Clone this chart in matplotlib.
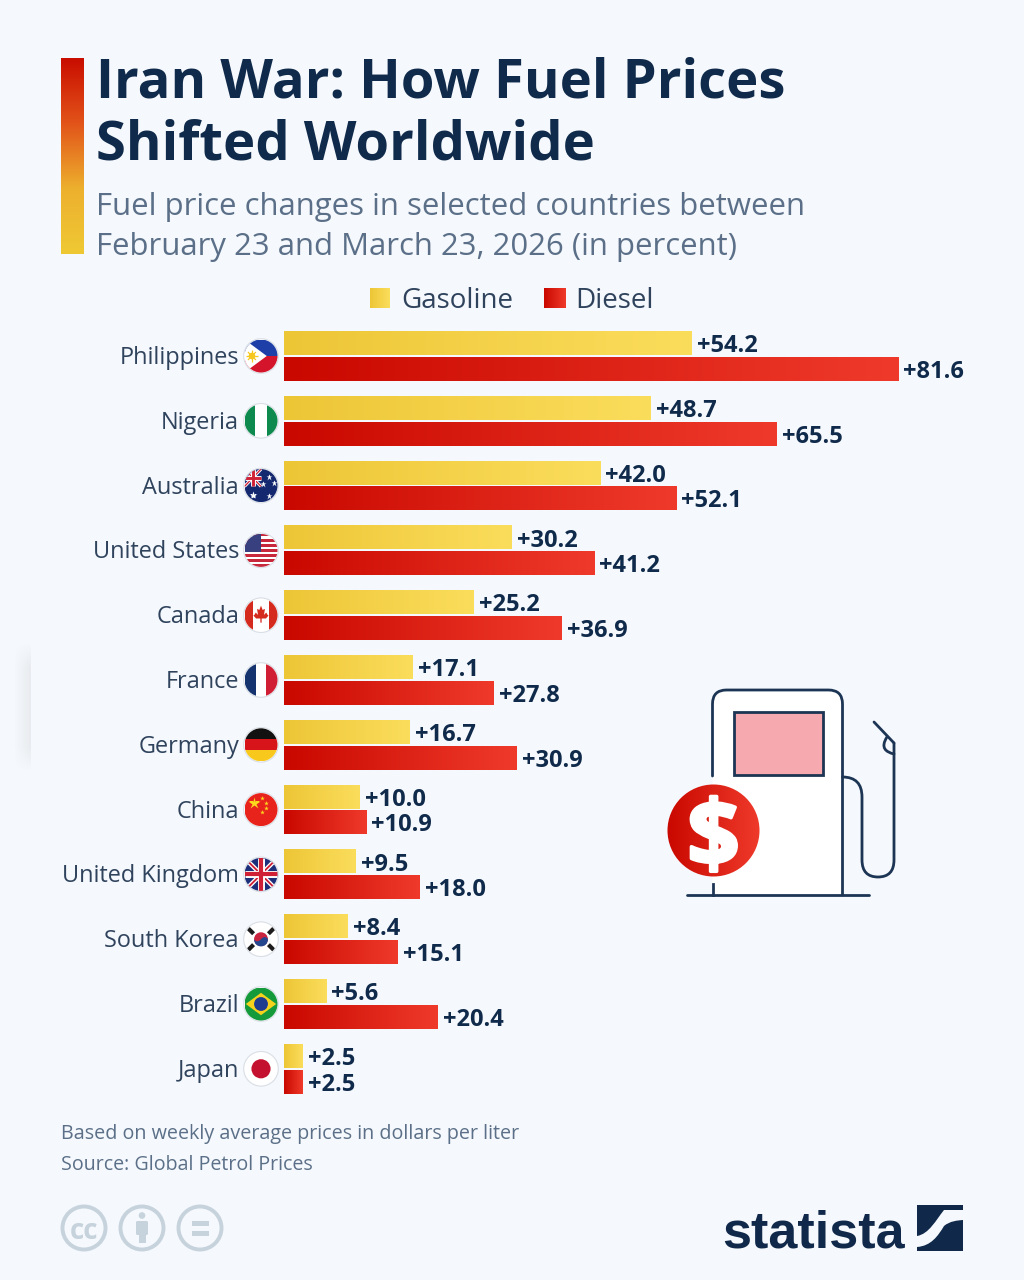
"""Iran war fuel price chart, statista style."""
import numpy as np
import matplotlib
matplotlib.use("Agg")
import matplotlib.pyplot as plt
import matplotlib.patheffects as pe
from matplotlib.colors import LinearSegmentedColormap
from matplotlib.patches import Circle, Rectangle, Polygon, PathPatch, FancyBboxPatch
from matplotlib.path import Path

countries = ["Philippines", "Nigeria", "Australia", "United States", "Canada", "France",
             "Germany", "China", "United Kingdom", "South Korea", "Brazil", "Japan"]
gasoline = [54.2, 48.7, 42.0, 30.2, 25.2, 17.1, 16.7, 10.0, 9.5, 8.4, 5.6, 2.5]
diesel = [81.6, 65.5, 52.1, 41.2, 36.9, 27.8, 30.9, 10.9, 18.0, 15.1, 20.4, 2.5]

BG = "#f5f8fc"
NAVY = "#0f2a4a"
LINE = "#1d3554"
SLATE = "#5b7088"
YEL = LinearSegmentedColormap.from_list("yel", ["#edc636", "#fbdd5c"])
RED = LinearSegmentedColormap.from_list("red", ["#c90800", "#ef3a2b"])
STRIP = LinearSegmentedColormap.from_list("strip", ["#c90d00", "#e2541a", "#edb02e", "#efc934"])
GRAD = np.linspace(0, 1, 256).reshape(1, -1)

plt.rcParams["font.family"] = ["Open Sans", "DejaVu Sans"]

fig = plt.figure(figsize=(10.24, 12.8), dpi=100, facecolor=BG)

# full-figure axes in pixel coordinates for everything around the chart
ov = fig.add_axes([0, 0, 1, 1], zorder=1)
ov.set_xlim(0, 1024)
ov.set_ylim(1280, 0)
ov.axis("off")

# chart axes: x=0 at px 283.5, 7.525 px per point; one row = 64.8 px
ax = fig.add_axes([283.5 / 1024, (1280 - 1100) / 1280, 740 / 1024, 780 / 1280], zorder=2)
ax.patch.set_alpha(0)
ax.set_xlim(0, 740 / 7.525)
ax.set_ylim((1100 - 356) / 64.8, (320 - 356) / 64.8)
ax.axis("off")


def gradient_bars(bars, cmap):
    for b in bars:
        x0, y0, w, h = b.get_x(), b.get_y(), b.get_width(), b.get_height()
        ax.imshow(GRAD, extent=(x0, x0 + w, y0 + h, y0), cmap=cmap, aspect="auto", zorder=3)
    ax.set_xlim(0, 740 / 7.525)
    ax.set_ylim((1100 - 356) / 64.8, (320 - 356) / 64.8)


rows = np.arange(len(countries))
bars_g = ax.barh(rows - 0.197, gasoline, height=0.365, color="#f4d145")
bars_d = ax.barh(rows + 0.197, diesel, height=0.37, color="#dc2015")
gradient_bars(bars_g, YEL)
gradient_bars(bars_d, RED)
for bars, vals in ((bars_g, gasoline), (bars_d, diesel)):
    for b, v in zip(bars, vals):
        ax.annotate(f"+{v:.1f}", (v, b.get_y() + b.get_height() / 2), xytext=(4.2, 0),
                    textcoords="offset points", va="center_baseline", ha="left",
                    fontsize=17, fontweight="bold", color=NAVY, zorder=4)


# --- flags ---------------------------------------------------------------
def flag_tools(cy, cx=261, r=16.5):
    clip = Circle((cx, cy), r, transform=ov.transData)
    ov.add_patch(Circle((cx, cy), r + 0.8, fc="#ffffff", ec="#d9dfe6", lw=0.8, zorder=3))

    def pt(u, v):
        return (cx + u * r, cy + v * r)

    def rect(u0, v0, u1, v1, color):
        p = Rectangle(pt(u0, v0), (u1 - u0) * r, (v1 - v0) * r, fc=color, ec="none", zorder=4)
        ov.add_patch(p)
        p.set_clip_path(clip)

    def poly(pts, color, z=5):
        p = Polygon([pt(*q) for q in pts], closed=True, fc=color, ec="none", zorder=z)
        ov.add_patch(p)
        p.set_clip_path(clip)

    def disc(u, v, rad, color, z=6):
        p = Circle(pt(u, v), rad * r, fc=color, ec="none", zorder=z)
        ov.add_patch(p)
        p.set_clip_path(clip)

    def seg(u0, v0, u1, v1, color, lw):
        a, b = pt(u0, v0), pt(u1, v1)
        ln, = ov.plot([a[0], b[0]], [a[1], b[1]], color=color, lw=lw, zorder=5,
                      solid_capstyle="butt")
        ln.set_clip_path(clip)

    def star(u, v, size, color):
        x, y = pt(u, v)
        ln, = ov.plot([x], [y], marker="*", ms=size, mfc=color, mec="none", zorder=6)
        ln.set_clip_path(clip)

    return pt, rect, poly, disc, seg, star


def union_jack(seg, rect, u0, v0, u1, v1, scale):
    rect(u0, v0, u1, v1, "#1b2f7a")
    seg(u0, v0, u1, v1, "#ffffff", 3.2 * scale)
    seg(u0, v1, u1, v0, "#ffffff", 3.2 * scale)
    seg(u0, v0, u1, v1, "#cf2035", 1.3 * scale)
    seg(u0, v1, u1, v0, "#cf2035", 1.3 * scale)
    mu, mv = (u0 + u1) / 2, (v0 + v1) / 2
    seg(u0, mv, u1, mv, "#ffffff", 5 * scale)
    seg(mu, v0, mu, v1, "#ffffff", 5 * scale)
    seg(u0, mv, u1, mv, "#cf2035", 3 * scale)
    seg(mu, v0, mu, v1, "#cf2035", 3 * scale)


def draw_flag(name, cy):
    pt, rect, poly, disc, seg, star = flag_tools(cy)
    if name == "Philippines":
        rect(-1, -1, 1, 0, "#1f3fa8")
        rect(-1, 0, 1, 1, "#d4142a")
        poly([(-1.0, -1), (0.35, 0), (-1.0, 1)], "#ffffff")
        disc(-0.55, 0, 0.2, "#f6c81f")
        for a in np.arange(0, np.pi, np.pi / 4):
            dx, dy = 0.34 * np.cos(a), 0.34 * np.sin(a)
            seg(-0.55 - dx, -dy, -0.55 + dx, dy, "#f6c81f", 0.9)
    elif name == "Nigeria":
        rect(-1, -1, -0.36, 1, "#0f8a4e")
        rect(0.36, -1, 1, 1, "#0f8a4e")
    elif name == "Australia":
        rect(-1, -1, 1, 1, "#14286f")
        union_jack(seg, rect, -1, -1, 0, 0.05, 0.7)
        star(-0.48, 0.55, 6, "#ffffff")
        for u, v in ((0.5, -0.55), (0.15, -0.1), (0.8, -0.15), (0.5, 0.65)):
            star(u, v, 4.5, "#ffffff")
    elif name == "United States":
        for i in range(13):
            rect(-1, -1 + i * 2 / 13, 1, -1 + (i + 1) * 2 / 13,
                 "#c8283c" if i % 2 == 0 else "#ffffff")
        rect(-1, -1, 0, 0.08, "#39407f")
    elif name == "Canada":
        rect(-1, -1, -0.5, 1, "#d52b1e")
        rect(0.5, -1, 1, 1, "#d52b1e")
        # rough maple leaf
        poly([(0, -0.58), (0.1, -0.32), (0.24, -0.38), (0.18, -0.02), (0.32, -0.16), (0.4, -0.02),
              (0.46, 0.02), (0.3, 0.2), (0.04, 0.2), (0.04, 0.45), (-0.04, 0.45), (-0.04, 0.2),
              (-0.3, 0.2), (-0.46, 0.02), (-0.4, -0.02), (-0.32, -0.16), (-0.18, -0.02),
              (-0.24, -0.38), (-0.1, -0.32)], "#d52b1e")
    elif name == "France":
        rect(-1, -1, -0.33, 1, "#14336f")
        rect(0.33, -1, 1, 1, "#d01f35")
    elif name == "Germany":
        rect(-1, -1, 1, -0.33, "#111111")
        rect(-1, -0.33, 1, 0.33, "#d7141a")
        rect(-1, 0.33, 1, 1, "#f8c91c")
    elif name == "China":
        rect(-1, -1, 1, 1, "#e8231c")
        star(-0.45, -0.38, 9, "#fbd91c")
        for u, v in ((0.05, -0.72), (0.3, -0.42), (0.3, -0.08), (0.05, 0.15)):
            star(u, v, 3.5, "#fbd91c")
    elif name == "United Kingdom":
        union_jack(seg, rect, -1, -1, 1, 1, 1.0)
    elif name == "South Korea":
        disc(0, 0, 0.42, "#c9243f")
        half = Path([pt(-0.42, 0), pt(-0.3, 0.22), pt(-0.1, 0.12), pt(0, 0),
                     pt(0.1, -0.12), pt(0.3, -0.22), pt(0.42, 0),
                     pt(0.42, 0.58), pt(-0.42, 0.58), pt(-0.42, 0)],
                    [1, 4, 4, 4, 4, 4, 4, 4, 4, 4])
        p = PathPatch(half, fc="#23468f", ec="none", zorder=7)
        ov.add_patch(p)
        for u, v, a in ((-0.62, -0.5, 1), (0.62, -0.5, -1), (-0.62, 0.5, -1), (0.62, 0.5, 1)):
            seg(u - 0.17, v - a * 0.17, u + 0.17, v + a * 0.17, "#1c1c1c", 3.0)
    elif name == "Brazil":
        rect(-1, -1, 1, 1, "#159a3b")
        poly([(-0.92, 0), (0, -0.68), (0.92, 0), (0, 0.68)], "#f5d31c")
        disc(0, 0, 0.42, "#1e3d8f")
        seg(-0.4, -0.08, 0.4, 0.12, "#ffffff", 0.8)
    elif name == "Japan":
        disc(0, 0, 0.58, "#c3112f")


for i, name in enumerate(countries):
    cy = 1280 - ax.transData.transform((0, i))[1]
    draw_flag(name, cy)
    ov.text(239, cy - 1, name, ha="right", va="center_baseline", fontsize=16.9, color="#2f435d")

# --- header --------------------------------------------------------------
ov.imshow(GRAD.T, extent=(61, 84, 254, 58), cmap=STRIP, aspect="auto", zorder=2)
ov.text(96, 77, "Iran War: How Fuel Prices", fontsize=39.2, fontweight="bold", color=NAVY,
        va="center_baseline")
ov.text(96, 139, "Shifted Worldwide", fontsize=39.2, fontweight="bold", color=NAVY,
        va="center_baseline")
ov.text(96, 204, "Fuel price changes in selected countries between", fontsize=22.4, color=SLATE,
        va="center_baseline")
ov.text(96, 243, "February 23 and March 23, 2026 (in percent)", fontsize=22.4, color=SLATE,
        va="center_baseline")

# legend
ov.imshow(GRAD, extent=(370, 390, 308, 288), cmap=YEL, aspect="auto", zorder=2)
ov.imshow(GRAD, extent=(544, 566, 308, 288), cmap=RED, aspect="auto", zorder=2)
ov.text(401, 298, "Gasoline", fontsize=20, color="#2f435d", va="center_baseline")
ov.text(575, 298, "Diesel", fontsize=20, color="#2f435d", va="center_baseline")

# faint card shadow on the left edge
shadow = np.linspace(0, 0.1, 64).reshape(1, -1, 1) * np.ones((130, 64, 1))
fade = np.minimum(1, np.minimum(np.arange(130), np.arange(129, -1, -1)) / 25).reshape(-1, 1, 1)
rgba = np.concatenate([np.full((130, 64, 3), 0.45), shadow * fade], axis=2)
ov.imshow(rgba, extent=(14, 31, 772, 642), aspect="auto", zorder=1)

# --- fuel pump -----------------------------------------------------------
L, R, T, B = 712.5, 842.5, 690, 895
body = Path([(L, B), (L, T + 14), (L, T), (L + 14, T), (R - 14, T), (R, T), (R, T + 14), (R, B), (L, B)],
            [1, 2, 3, 3, 2, 3, 3, 2, 79])
ov.add_patch(PathPatch(body, fc="#ffffff", ec="none", zorder=3))
pump_kw = dict(fc="none", ec=LINE, lw=2.0, zorder=4, capstyle="round", joinstyle="round")
ov.add_patch(PathPatch(Path([(L, 776), (L, T + 14), (L, T), (L + 14, T), (R - 14, T), (R, T), (R, T + 14), (R, B)],
                            [1, 2, 3, 3, 2, 3, 3, 2]), **pump_kw))
ov.plot([L, L], [884, B], color=LINE, lw=2.0, zorder=4)
ov.plot([687, 869], [895, 895], color=LINE, lw=2.0, zorder=4, solid_capstyle="round")
ov.add_patch(Rectangle((733.5, 711.5), 89.5, 63, fc="#f6a9ae", ec=LINE, lw=2.0, zorder=4))
hose = Path([(R, 777), (862, 777), (862, 797), (862, 860), (862, 877), (878, 877), (894, 877), (894, 860), (894, 743)],
            [1, 3, 3, 2, 3, 3, 3, 3, 2])
ov.add_patch(PathPatch(hose, **pump_kw))
ov.plot([874, 894], [722, 743], color=LINE, lw=2.0, zorder=4, solid_capstyle="round")
nozzle = Path([(887, 737), (880, 748), (886, 752), (894, 754)], [1, 4, 4, 4])
ov.add_patch(PathPatch(nozzle, **pump_kw))

badge = Circle((713.5, 830.5), 46, transform=ov.transData, fc="none", ec="none")
ov.add_patch(badge)
im = ov.imshow(GRAD, extent=(667, 760, 877, 784), cmap=RED, aspect="auto", zorder=5)
im.set_clip_path(badge)
ov.text(713.5, 831, "$", fontsize=66, fontweight="bold", color="#ffffff", ha="center",
        va="center_baseline", zorder=6,
        path_effects=[pe.withStroke(linewidth=2.5, foreground="#ffffff")])

# --- footer --------------------------------------------------------------
ov.text(61, 1132, "Based on weekly average prices in dollars per liter", fontsize=14.2,
        color=SLATE, va="center_baseline")
ov.text(61, 1162, "Source: Global Petrol Prices", fontsize=14.1, color=SLATE, va="center_baseline")

ICON = "#c6d2dc"
for cx in (84, 142, 200):
    ov.add_patch(Circle((cx, 1228), 21.5, fc="none", ec=ICON, lw=2.8))
ov.text(84, 1228, "cc", fontsize=20, fontweight="bold", color=ICON, ha="center", va="center_baseline")
ov.add_patch(Circle((142, 1215.5), 3.3, fc=ICON, ec="none"))
ov.add_patch(FancyBboxPatch((136, 1221), 12, 14, boxstyle="round,pad=0,rounding_size=1.5", fc=ICON, ec="none"))
ov.add_patch(Rectangle((138.5, 1233), 7, 10, fc=ICON, ec="none"))
ov.add_patch(Rectangle((191.5, 1220.5), 17, 5, fc=ICON, ec="none"))
ov.add_patch(Rectangle((191.5, 1230.5), 17, 5, fc=ICON, ec="none"))

ov.text(813.5, 1229, "statista", fontsize=37.5, fontweight="bold", color="#10294a", ha="center",
        va="center_baseline", family=["Liberation Sans", "DejaVu Sans"])
# logo mark, two pieces split by an S curve
ov.add_patch(PathPatch(Path([(917, 1205), (963, 1205), (963, 1210), (944, 1210), (936, 1220),
                             (929, 1234), (917, 1236), (917, 1205)],
                            [1, 2, 2, 2, 4, 4, 4, 2]), fc="#10294a", ec="none"))
ov.add_patch(PathPatch(Path([(963, 1220), (963, 1251), (917, 1251), (917, 1247), (931, 1246),
                             (938, 1236), (944, 1226), (950, 1221), (957, 1220.5), (963, 1220)],
                            [1, 2, 2, 2, 4, 4, 4, 4, 4, 4]), fc="#10294a", ec="none"))

ov.set_xlim(0, 1024)
ov.set_ylim(1280, 0)
fig.savefig("out.png", dpi=100, facecolor=BG)
